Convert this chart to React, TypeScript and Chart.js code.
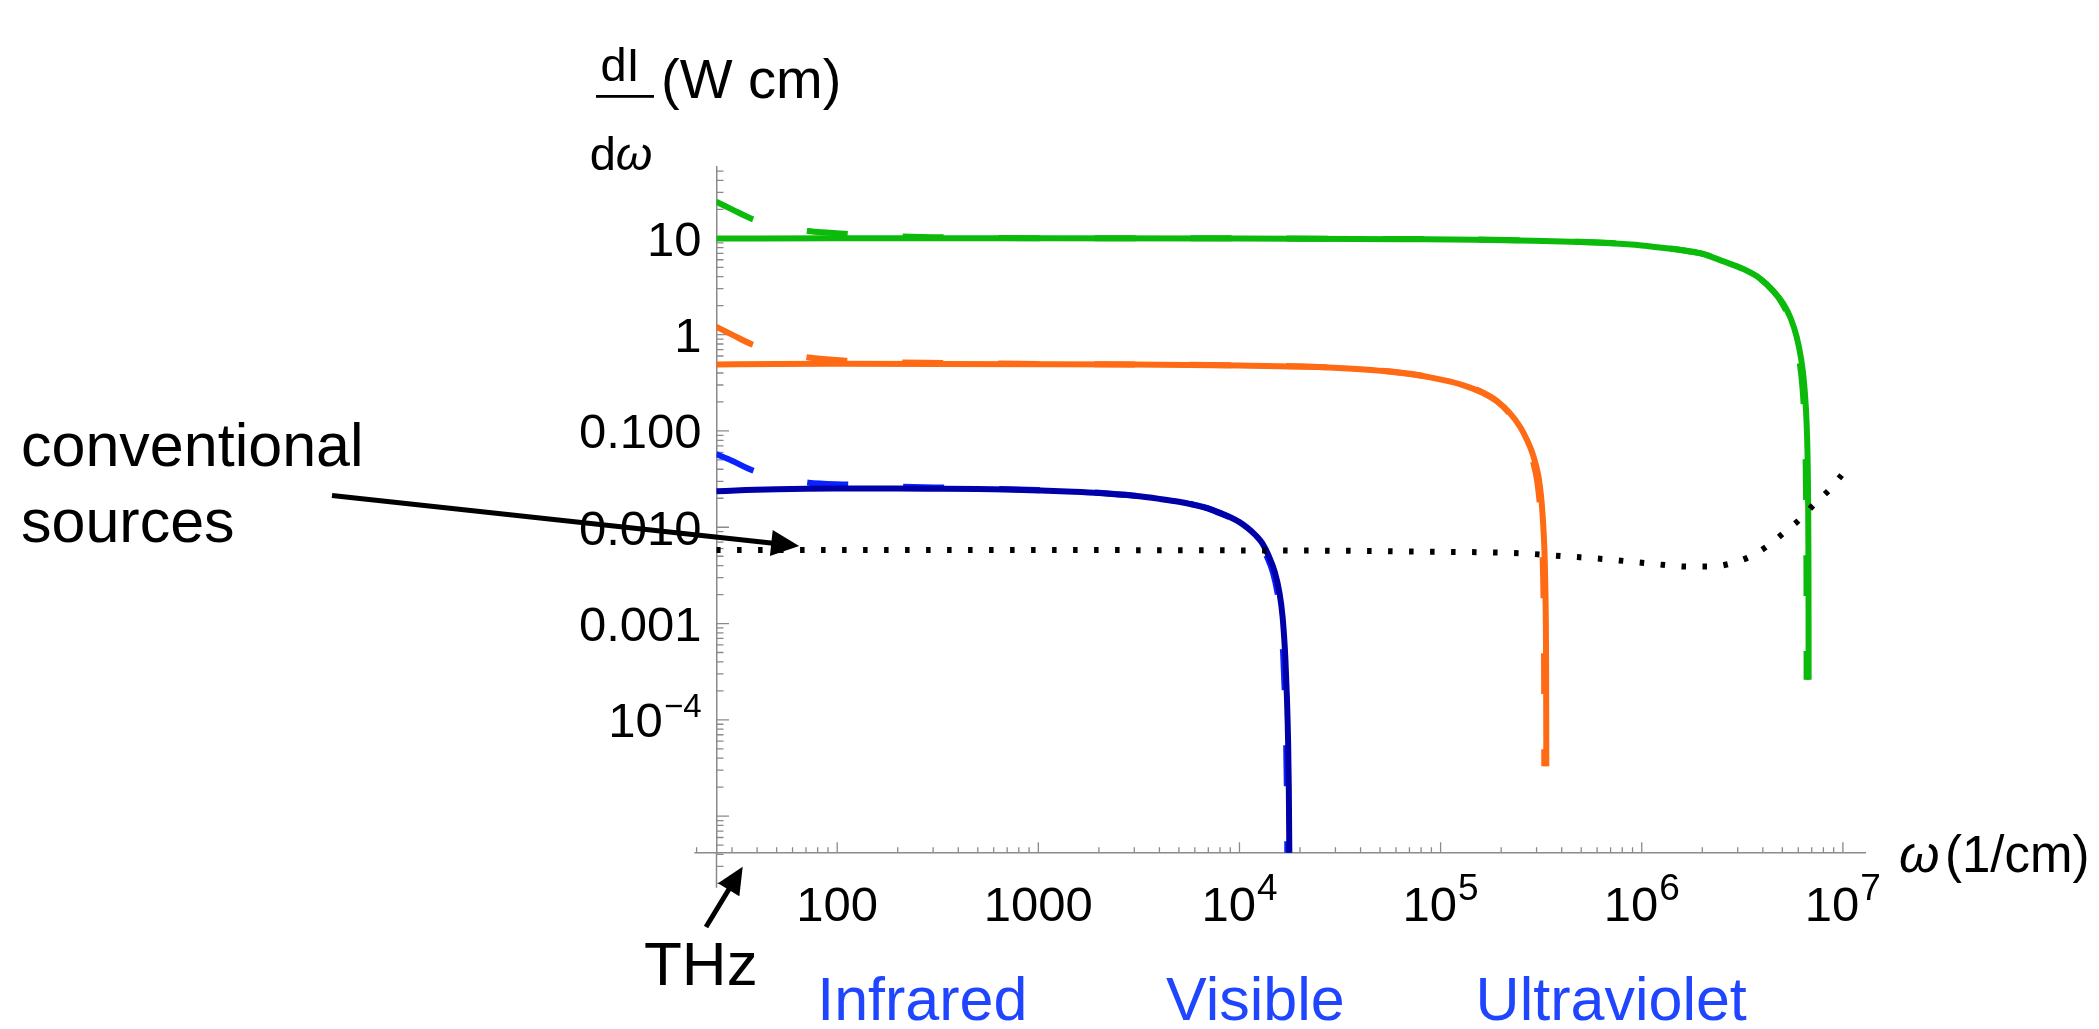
import React, { useEffect, useRef } from "react";
import { Chart, registerables } from "chart.js";

Chart.register(...registerables);

// ---------- axis ranges (data units) ----------
const X_MIN = 25.12; // where the y axis crosses
const X_MAX = 1.288e7;
const Y_MIN = 4.17e-6; // where the x axis crosses
const Y_MAX = 55.5;
const X_AXIS_START = 19.5; // x axis extends a bit left of the y axis
const Y_AXIS_END = 1.8e-6; // y axis extends a bit below the x axis

// ---------- ticks ----------
const xMajorTicks = [100, 1000, 1e4, 1e5, 1e6, 1e7];
const xTickLabels = ["100", "1000", "10^4", "10^5", "10^6", "10^7"];
const yMajorTicks = [1e-5, 1e-4, 1e-3, 1e-2, 0.1, 1, 10];
const yTickLabels = ["", "10^\u22124", "0.001", "0.010", "0.100", "1", "10"];
const minorMultipliers = [2, 3, 4, 5, 6, 7, 8, 9];
const tickDecades = [-6, -5, -4, -3, -2, -1, 0, 1, 2, 3, 4, 5, 6, 7];

// ---------- series: green (highest) ----------
const greenX = [25, 100, 1000, 10000, 62500, 150000, 288000, 500000, 700000, 1000000, 1330000, 1700000, 2000000, 2530000, 3200000, 3860000, 4500000, 5050000, 5500000, 5890000, 6200000, 6400000, 6550000, 6640000, 6690000, 6720000, 6740000, 6750000, 6755000];
const greenY = [9.95, 10.0, 10.0, 9.97, 9.8, 9.7, 9.45, 9.15, 8.9, 8.45, 7.9, 7.35, 6.9, 5.8, 4.8, 3.85, 2.85, 2.1, 1.48, 0.95, 0.56, 0.33, 0.17, 0.085, 0.04, 0.016, 0.0052, 0.0013, 0.00026];
const greenDashX = [25, 30, 38.4, 50, 72, 114, 200, 400, 1000, 10000, 62500, 150000, 288000, 500000, 700000, 1000000, 1330000, 1700000, 2000000, 2530000, 3200000, 3860000, 4500000, 5000000, 5418000, 5772000, 6057000, 6253000, 6399000, 6487000, 6536000, 6565000, 6585000, 6595000, 6600000];
const greenDashY = [24, 20, 15.7, 13.6, 11.9, 11.1, 10.5, 10.2, 10.05, 10.0, 9.85, 9.75, 9.5, 9.2, 8.95, 8.5, 7.95, 7.4, 6.95, 5.85, 4.85, 3.85, 2.85, 2.1, 1.48, 0.95, 0.56, 0.33, 0.17, 0.085, 0.04, 0.016, 0.0052, 0.0013, 0.00026];

// ---------- series: orange (middle) ----------
const orangeX = [25, 50, 100, 300, 1000, 3000, 10000, 20000, 40000, 62500, 90000, 129000, 160000, 190000, 220000, 250000, 270000, 285000, 297000, 307000, 315000, 321000, 326000, 329500, 332000, 333600, 334600, 335100, 335400];
const orangeY = [0.49, 0.496, 0.498, 0.497, 0.494, 0.489, 0.478, 0.466, 0.437, 0.402, 0.358, 0.3, 0.252, 0.204, 0.155, 0.108, 0.079, 0.06, 0.045, 0.033, 0.022, 0.014, 0.008, 0.0045, 0.0022, 0.001, 0.00035, 0.0001, 0.000033];
const orangeDashX = [25, 30, 38.4, 50, 72, 114, 200, 400, 1000, 3000, 10000, 20000, 40000, 62500, 90000, 129000, 160000, 190000, 217800, 246000, 264600, 278400, 290200, 299900, 307800, 313600, 318500, 321900, 324400, 325900, 326900, 327400, 327700];
const orangeDashY = [1.21, 1.0, 0.78, 0.68, 0.58, 0.536, 0.515, 0.505, 0.497, 0.49, 0.48, 0.468, 0.439, 0.404, 0.36, 0.302, 0.254, 0.206, 0.155, 0.108, 0.079, 0.06, 0.045, 0.033, 0.022, 0.014, 0.008, 0.0045, 0.0022, 0.001, 0.00035, 0.0001, 0.000033];

// ---------- series: blue (lowest) ----------
const blueX = [25, 35, 50, 70, 100, 150, 200, 300, 500, 700, 1000, 1500, 2000, 3000, 4000, 5000, 6000, 7000, 8000, 9000, 10000, 11000, 12000, 13000, 14000, 15000, 15800, 16400, 16900, 17200, 17450, 17600, 17700, 17750];
const blueY = [0.0236, 0.0243, 0.0248, 0.0251, 0.0252, 0.0252, 0.0252, 0.0251, 0.0249, 0.0246, 0.0241, 0.0234, 0.0227, 0.0212, 0.0197, 0.0184, 0.017, 0.0156, 0.0141, 0.0127, 0.0113, 0.0098, 0.0083, 0.0068, 0.005, 0.0034, 0.0021, 0.00115, 0.00045, 0.00018, 0.00006, 0.000018, 0.000004, 0.000001];
const blueDashX = [25, 30, 38.4, 50, 72, 114, 200, 400, 1000, 1500, 2000, 3000, 4000, 5000, 6000, 7000, 7920, 8910, 9850, 10840, 11760, 12740, 13680, 14660, 15440, 16020, 16510, 16800, 17050, 17200, 17290, 17340];
const blueDashY = [0.0575, 0.049, 0.0386, 0.0335, 0.029, 0.0278, 0.0265, 0.0256, 0.0243, 0.0235, 0.0228, 0.0213, 0.0198, 0.0185, 0.0171, 0.0157, 0.0141, 0.0127, 0.0113, 0.0098, 0.0083, 0.0068, 0.005, 0.0034, 0.0021, 0.00115, 0.00045, 0.00018, 0.00006, 0.000018, 0.000004, 0.000001];

// ---------- series: conventional sources (dotted) ----------
const convX = [25, 1000, 10000, 30000, 70000, 250000, 410000, 670000, 1070000, 1730000, 2220000, 2790000, 3440000, 4170000, 5050000, 6110000, 7260000, 8610000, 9860000];
const convY = [0.0058, 0.0058, 0.00575, 0.0057, 0.0056, 0.00536, 0.005, 0.00465, 0.00422, 0.0039, 0.0039, 0.00422, 0.00494, 0.00628, 0.00865, 0.0121, 0.0177, 0.0248, 0.0348];

// ---------- annotations ----------
const bandLabels = ["Infrared", "Visible", "Ultraviolet"];
const bandCenters = [265, 12000, 705000];

const FONT = "'Liberation Sans', Arial, Helvetica, sans-serif";
const AXIS_COLOR = "#8a8a8a";
const GREEN = "#0BBA0B";
const ORANGE = "#FF6A14";
const BLUE = "#0000A8";
const BLUE_DASH = "#0A22FF";
const BAND_BLUE = "#1F45FF";

function pts(xs: number[], ys: number[]) {
  return xs.map((x, i) => ({ x, y: ys[i] }));
}

function drawSup(ctx: CanvasRenderingContext2D, text: string, x: number, y: number, align: "center" | "right", base: number, sup: number, rise: number) {
  const [b, e] = text.split("^");
  ctx.font = `${base}px ${FONT}`;
  const wb = ctx.measureText(b).width;
  let we = 0;
  if (e) {
    ctx.font = `${sup}px ${FONT}`;
    we = ctx.measureText(e).width;
  }
  const total = wb + (e ? we + 1 : 0);
  const start = align === "center" ? x - total / 2 : x - total;
  ctx.textAlign = "left";
  ctx.textBaseline = "alphabetic";
  ctx.font = `${base}px ${FONT}`;
  ctx.fillText(b, start, y);
  if (e) {
    ctx.font = `${sup}px ${FONT}`;
    ctx.fillText(e, start + wb + 1, y - rise);
  }
}

function arrow(ctx: CanvasRenderingContext2D, x1: number, y1: number, x2: number, y2: number, headLen: number, headHalf: number, lw: number) {
  const ang = Math.atan2(y2 - y1, x2 - x1);
  const bx = x2 - headLen * Math.cos(ang);
  const by = y2 - headLen * Math.sin(ang);
  ctx.save();
  ctx.strokeStyle = "#000";
  ctx.fillStyle = "#000";
  ctx.lineWidth = lw;
  ctx.lineCap = "butt";
  ctx.beginPath();
  ctx.moveTo(x1, y1);
  ctx.lineTo(bx + 2 * Math.cos(ang), by + 2 * Math.sin(ang));
  ctx.stroke();
  ctx.beginPath();
  ctx.moveTo(x2, y2);
  ctx.lineTo(bx + headHalf * Math.sin(ang), by - headHalf * Math.cos(ang));
  ctx.lineTo(bx - headHalf * Math.sin(ang), by + headHalf * Math.cos(ang));
  ctx.closePath();
  ctx.fill();
  ctx.restore();
}

const axesPlugin = {
  id: "mmaAxes",
  beforeDatasetsDraw(chart: any) {
    const ctx: CanvasRenderingContext2D = chart.ctx;
    const xs = chart.scales.x;
    const ys = chart.scales.y;
    const ax = xs.getPixelForValue(X_MIN);
    const ay = ys.getPixelForValue(Y_MIN);
    ctx.save();
    ctx.strokeStyle = AXIS_COLOR;
    ctx.lineWidth = 1.5;
    ctx.beginPath();
    ctx.moveTo(xs.getPixelForValue(X_AXIS_START), ay);
    ctx.lineTo(ax, ay);
    ctx.moveTo(ax, ay);
    ctx.lineTo(ax, ys.getPixelForValue(Y_AXIS_END));
    ctx.stroke();
    ctx.lineWidth = 1.3;
    ctx.beginPath();
    // x ticks (pointing up)
    for (const d of tickDecades) {
      const major = Math.pow(10, d);
      if (major >= X_AXIS_START && major <= X_MAX) {
        const px = xs.getPixelForValue(major);
        ctx.moveTo(px, ay);
        ctx.lineTo(px, ay - 10.5);
      }
      for (const m of minorMultipliers) {
        const v = m * major;
        if (v >= X_AXIS_START && v <= X_MAX) {
          const px = xs.getPixelForValue(v);
          ctx.moveTo(px, ay);
          ctx.lineTo(px, ay - 5.5);
        }
      }
    }
    // y ticks (pointing right)
    for (const d of tickDecades) {
      const major = Math.pow(10, d);
      if (major >= Y_AXIS_END && major <= Y_MAX) {
        const py = ys.getPixelForValue(major);
        ctx.moveTo(ax, py);
        ctx.lineTo(ax + 12.5, py);
      }
      for (const m of minorMultipliers) {
        const v = m * major;
        if (v >= Y_AXIS_END && v <= Y_MAX) {
          const py = ys.getPixelForValue(v);
          ctx.moveTo(ax, py);
          ctx.lineTo(ax + 7, py);
        }
      }
    }
    ctx.stroke();
    ctx.restore();
  },
  afterDraw(chart: any) {
    const ctx: CanvasRenderingContext2D = chart.ctx;
    const xs = chart.scales.x;
    const ys = chart.scales.y;
    const ax = xs.getPixelForValue(X_MIN);
    const ay = ys.getPixelForValue(Y_MIN);
    ctx.save();
    ctx.fillStyle = "#000";
    // x tick labels
    xMajorTicks.forEach((v, i) => {
      drawSup(ctx, xTickLabels[i], xs.getPixelForValue(v), ay + 68.5, "center", 49, 37, 21);
    });
    // y tick labels
    yMajorTicks.forEach((v, i) => {
      if (!yTickLabels[i]) return;
      drawSup(ctx, yTickLabels[i], ax - 15, ys.getPixelForValue(v) + 17.5, "right", 49, 33, 20);
    });
    // x axis label
    ctx.textAlign = "left";
    ctx.textBaseline = "alphabetic";
    ctx.font = `italic 52px ${FONT}`;
    ctx.fillText("\u03c9", 1899, ay + 19);
    ctx.font = `51px ${FONT}`;
    ctx.fillText("(1/cm)", 1945, ay + 19);
    // y axis label: dI/dω (W cm)
    ctx.textAlign = "center";
    ctx.font = `47px ${FONT}`;
    ctx.fillText("dI", 620, 81);
    const wd = ctx.measureText("d").width;
    ctx.font = `italic 47px ${FONT}`;
    const ww = ctx.measureText("\u03c9").width;
    const startD = 621 - (wd + ww) / 2;
    ctx.textAlign = "left";
    ctx.font = `47px ${FONT}`;
    ctx.fillText("d", startD, 170);
    ctx.font = `italic 47px ${FONT}`;
    ctx.fillText("\u03c9", startD + wd, 170);
    ctx.fillRect(596, 95, 58, 2.8);
    ctx.font = `56px ${FONT}`;
    ctx.fillText("(W cm)", 661, 98);
    // annotations
    ctx.font = `61px ${FONT}`;
    ctx.fillText("conventional", 21, 466);
    ctx.fillText("sources", 21, 542);
    ctx.font = `62px ${FONT}`;
    ctx.fillText("THz", 644, 985);
    // band labels
    ctx.fillStyle = BAND_BLUE;
    ctx.font = `61px ${FONT}`;
    ctx.textAlign = "center";
    bandLabels.forEach((t, i) => {
      ctx.fillText(t, xs.getPixelForValue(bandCenters[i]), 1020);
    });
    ctx.restore();
    // arrows
    arrow(ctx, 332, 495.5, xs.getPixelForValue(64.7), ys.getPixelForValue(0.00638), 28, 13, 5);
    arrow(ctx, 706, 927, 742.7, 866.7, 27, 12.5, 5);
  },
};

function line(label: string, xs: number[], ys: number[], color: string, width: number, dash: number[]) {
  return {
    label,
    data: pts(xs, ys),
    borderColor: color,
    backgroundColor: color,
    borderWidth: width,
    borderDash: dash,
    borderCapStyle: "butt",
    borderJoinStyle: "round",
    pointRadius: 0,
    pointHoverRadius: 0,
    fill: false,
    cubicInterpolationMode: "monotone",
  };
}

export default function App() {
  const ref = useRef<HTMLCanvasElement | null>(null);
  useEffect(() => {
    if (!ref.current) return;
    const chart = new Chart(ref.current, {
      type: "line",
      data: {
        datasets: [
          line("conventional sources", convX, convY, "#000000", 6, [4.5, 16.5]),
          line("green", greenX, greenY, GREEN, 6, []),
          line("orange", orangeX, orangeY, ORANGE, 6, []),
          line("blue", blueX, blueY, BLUE, 6, []),
          line("green dashed", greenDashX, greenDashY, GREEN, 6, [41, 55]),
          line("orange dashed", orangeDashX, orangeDashY, ORANGE, 6, [41, 55]),
          line("blue dashed", blueDashX, blueDashY, BLUE_DASH, 6, [41, 55]),
        ] as any,
      },
      options: {
        animation: false,
        responsive: false,
        maintainAspectRatio: false,
        layout: { padding: { left: 716.5, right: 234, top: 166.7, bottom: 176.3 } },
        scales: {
          x: {
            type: "logarithmic",
            min: X_MIN,
            max: X_MAX,
            ticks: { display: false },
            grid: { display: false, drawTicks: false },
            border: { display: true, color: AXIS_COLOR, width: 1.5 },
          },
          y: {
            type: "logarithmic",
            min: Y_MIN,
            max: Y_MAX,
            ticks: { display: false },
            grid: { display: false, drawTicks: false },
            border: { display: true, color: AXIS_COLOR, width: 1.5 },
          },
        },
        plugins: { legend: { display: false }, tooltip: { enabled: false } },
        elements: { point: { radius: 0 } },
      } as any,
      plugins: [axesPlugin],
    });
    return () => chart.destroy();
  }, []);
  return (
    <div style={{ position: "fixed", left: 0, top: 0, width: 2099, height: 1029, background: "#ffffff" }}>
      <canvas ref={ref} width={2099} height={1029} style={{ display: "block", width: 2099, height: 1029 }} />
    </div>
  );
}
